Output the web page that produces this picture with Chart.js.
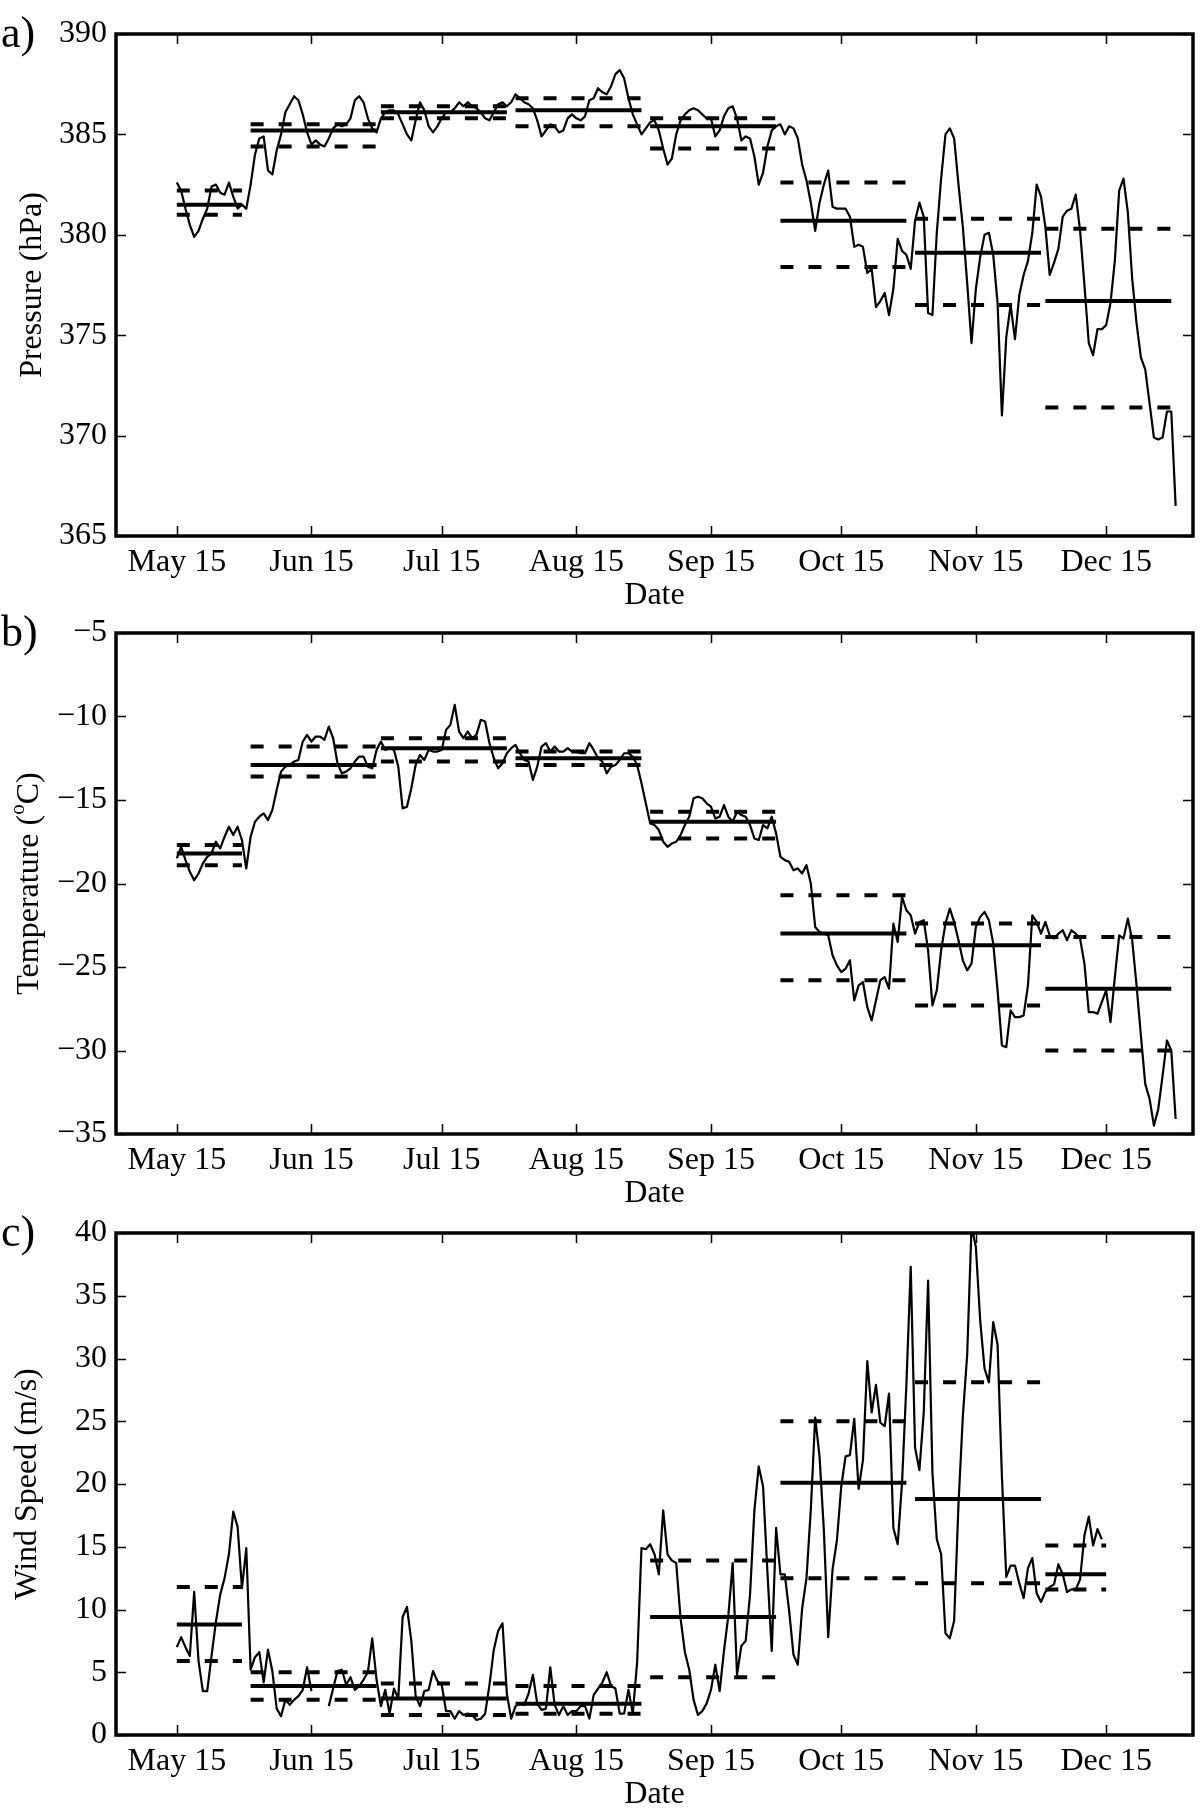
<!DOCTYPE html>
<html>
<head>
<meta charset="utf-8">
<script src="https://cdn.jsdelivr.net/npm/chart.js@4.4.1/dist/chart.umd.min.js"></script>
<style>
  html, body { margin: 0; padding: 0; background: #ffffff; }
  body { width: 1200px; height: 1811px; position: relative; overflow: hidden; }
  .panel { position: absolute; left: 0; width: 1200px; }
  canvas { display: block; }
</style>
</head>
<body>
<div class="panel" style="top:0px;height:622px"><canvas id="chartA" width="1200" height="622"></canvas></div>
<div class="panel" style="top:600px;height:622px"><canvas id="chartB" width="1200" height="622"></canvas></div>
<div class="panel" style="top:1200px;height:611px"><canvas id="chartC" width="1200" height="611"></canvas></div>
<script>
// ---------------- DATA ----------------
// day-of-year of the first daily value (May 15)
const startDay = 135;

// x-axis ticks
const tickDays = [135, 166, 196, 227, 258, 288, 319, 349];
const tickLabels = ['May 15', 'Jun 15', 'Jul 15', 'Aug 15', 'Sep 15', 'Oct 15', 'Nov 15', 'Dec 15'];

// monthly windows (day-of-year)
const monthStart = [135, 152, 182, 213, 244, 274, 305, 335];
const monthEnd = [150, 181, 211, 242, 273, 303, 334, 364];
const windMonthEnd = [150, 181, 211, 242, 273, 303, 334, 349];

// daily pressure (hPa)
const pressure = [
  382.6, 382.2, 381.3, 380.5, 379.9, 380.2, 380.8, 381.3, 382.4, 382.5,
  382.1, 382.0, 382.6, 381.9, 381.3, 381.5, 381.3, 382.5, 384.0, 384.8,
  384.9, 383.2, 383.0, 384.2, 385.0, 386.1, 386.5, 386.9, 386.7, 386.0,
  385.1, 384.5, 384.7, 384.5, 384.4, 384.8, 385.3, 385.5, 385.4, 385.5,
  385.8, 386.7, 386.9, 386.6, 385.8, 385.3, 385.1, 385.8, 386.1, 386.2,
  386.2, 386.0, 385.5, 385.0, 384.7, 385.7, 386.6, 386.2, 385.4, 385.1,
  385.4, 385.8, 386.1, 386.1, 386.3, 386.6, 386.4, 386.6, 386.4, 386.3,
  386.1, 385.8, 385.7, 386.1, 386.5, 386.6, 386.4, 386.6, 387.0, 386.8,
  386.6, 386.5, 386.3, 385.7, 384.9, 385.2, 385.5, 385.4, 385.1, 385.2,
  385.8, 386.0, 385.8, 385.7, 385.9, 386.7, 386.8, 387.3, 387.1, 387.0,
  387.4, 388.0, 388.2, 387.8, 386.8, 386.0, 385.5, 385.0, 385.3, 385.6,
  385.7, 385.2, 384.3, 383.5, 383.8, 385.0, 385.7, 386.0, 386.2, 386.3,
  386.2, 386.0, 385.8, 385.8, 384.9, 385.2, 385.9, 386.3, 386.4, 385.8,
  384.7, 384.9, 384.8, 383.9, 382.5, 383.1, 384.4, 385.2, 385.4, 385.5,
  385.0, 385.4, 385.3, 384.8, 383.5, 382.7, 381.6, 380.2, 381.6, 382.5,
  383.2, 381.4, 381.3, 381.3, 381.3, 380.9, 379.4, 379.5, 379.4, 378.1,
  378.3, 376.4, 376.7, 377.1, 376.0, 377.3, 379.8, 379.2, 379.0, 378.3,
  380.7, 381.6, 380.9, 376.1, 376.0, 380.1, 382.8, 385.0, 385.3, 384.8,
  382.5, 380.4, 377.6, 374.6, 377.3, 378.9, 380.0, 380.1, 379.0, 376.6,
  371.0, 374.9, 376.5, 374.8, 377.0, 378.0, 378.7, 380.1, 382.5, 381.9,
  380.4, 378.0, 378.6, 379.3, 380.9, 381.2, 381.3, 382.0, 380.2, 377.5,
  374.6, 374.0, 375.3, 375.3, 375.5, 376.6, 378.7, 382.2, 382.8, 381.1,
  377.8, 375.6, 373.9, 373.3, 371.6, 369.9, 369.8, 369.9, 371.2, 371.2,
  366.5
];
const pressureMean  = [381.5, 385.2, 386.1, 386.2, 385.4, 380.7, 379.1, 376.7];
const pressureUpper = [382.2, 385.5, 386.4, 386.8, 385.8, 382.6, 380.8, 380.3];
const pressureLower = [381.0, 384.4, 385.8, 385.4, 384.3, 378.4, 376.5, 371.4];

// daily temperature (degC)
const temperature = [
  -18.5, -17.8, -18.6, -19.3, -19.8, -19.4, -18.8, -18.4, -18.2, -17.5,
  -17.9, -17.2, -16.6, -17.1, -16.6, -17.4, -19.1, -17.2, -16.3, -16.0,
  -15.8, -16.2, -15.6, -14.4, -13.3, -13.0, -12.9, -12.7, -12.6, -11.5,
  -11.1, -11.5, -11.2, -11.2, -11.4, -10.6, -11.3, -12.8, -13.4, -13.3,
  -13.1, -12.7, -12.4, -12.4, -13.0, -13.1, -12.0, -11.5, -12.0, -11.9,
  -12.0, -13.0, -15.5, -15.4, -14.3, -12.9, -12.3, -12.6, -12.0, -12.1,
  -12.1, -12.0, -10.8, -10.5, -9.3, -10.9, -11.3, -10.9, -11.3, -11.1,
  -10.2, -10.3, -11.6, -12.5, -13.1, -12.8, -12.2, -11.9, -11.7, -12.2,
  -12.6, -12.7, -13.8, -13.0, -11.8, -11.6, -12.1, -11.8, -12.1, -12.1,
  -11.9, -12.1, -12.1, -12.2, -12.2, -11.6, -12.0, -12.5, -12.7, -13.4,
  -13.0, -12.9, -12.6, -12.2, -12.2, -12.4, -12.9, -14.0, -15.2, -16.4,
  -16.5, -16.8, -17.5, -17.8, -17.6, -17.5, -17.1, -16.5, -16.0, -14.9,
  -14.8, -14.9, -15.2, -15.4, -16.1, -16.0, -15.3, -16.0, -16.3, -15.7,
  -15.9, -16.0, -16.5, -17.3, -17.4, -16.5, -16.7, -16.0, -17.0, -18.4,
  -18.6, -18.7, -19.2, -19.1, -19.4, -18.9, -20.0, -22.6, -22.9, -23.0,
  -23.1, -24.3, -24.9, -25.3, -25.1, -24.6, -27.0, -26.1, -25.9, -27.4,
  -28.2, -27.0, -25.8, -25.6, -26.3, -22.4, -23.5, -20.8, -21.6, -21.9,
  -23.0, -22.3, -22.2, -24.0, -27.3, -26.4, -24.0, -22.4, -21.5, -22.3,
  -23.4, -24.6, -25.2, -24.8, -22.6, -22.0, -21.7, -22.2, -23.6, -26.4,
  -29.7, -29.8, -27.6, -28.0, -28.0, -27.9, -26.1, -21.9, -22.3, -23.0,
  -22.3, -23.1, -23.3, -23.0, -22.8, -23.4, -22.8, -23.0, -23.3, -24.8,
  -27.7, -27.7, -27.8, -27.1, -26.4, -28.3, -25.6, -23.1, -23.3, -22.1,
  -23.4, -26.1, -29.1, -32.0, -32.9, -34.5, -33.5, -31.5, -29.4, -30.0,
  -34.1
];
const temperatureMean  = [-18.2, -12.9, -11.9, -12.5, -16.3, -23.0, -23.7, -26.3];
const temperatureUpper = [-17.7, -11.8, -11.3, -12.1, -15.7, -20.7, -22.4, -23.2];
const temperatureLower = [-18.9, -13.6, -12.7, -12.9, -17.3, -25.8, -27.3, -30.0];

// daily wind speed (m/s); null = missing day
const windSpeed = [
  7.0, 7.8, 7.0, 6.3, 11.4, 5.9, 3.5, 3.5, 6.3, 9.0,
  11.2, 12.5, 14.4, 17.8, 16.6, 11.7, 14.9, 5.2, 6.2, 6.6,
  4.2, 6.8, 5.1, 2.1, 1.5, 2.8, 2.4, 2.8, 3.1, 3.6,
  5.4, 3.5, null, null, null, 2.3, 3.7, 5.1, 5.2, 4.0,
  4.6, 3.6, 3.9, 4.4, 5.0, 7.7, 4.4, 2.3, 3.6, 1.7,
  3.7, 2.9, 9.4, 10.2, 7.5, 3.1, 2.3, 3.5, 3.6, 5.1,
  4.3, 4.0, 1.9, 1.9, 1.3, 1.9, 1.6, 1.7, 1.6, 1.2,
  1.3, 1.7, 4.0, 6.8, 8.3, 8.9, 3.3, 1.3, 2.3, 2.5,
  2.4, 3.3, 4.8, 2.5, 2.0, 2.1, 5.4, 2.4, 1.6, 2.3,
  1.6, 1.9, 1.9, 2.3, 2.3, 1.3, 3.2, 3.7, 4.2, 5.0,
  3.9, 3.7, 1.7, 1.7, 3.6, 1.7, 5.8, 14.9, 14.8, 15.2,
  14.4, 12.8, 17.9, 14.4, 13.9, 13.7, 9.3, 6.6, 5.2, 2.8,
  1.6, 1.9, 2.5, 3.6, 5.6, 3.5, 6.7, 9.5, 13.7, 4.8,
  7.1, 7.5, 11.2, 17.9, 21.4, 19.8, 13.0, 6.7, 16.5, 12.8,
  12.8, 9.9, 6.4, 5.6, 10.1, 12.5, 18.0, 25.3, 22.2, 16.3,
  7.8, 13.2, 15.5, 19.8, 22.2, 22.3, 25.2, 19.6, 21.9, 29.8,
  25.7, 27.9, 24.9, 24.6, 27.2, 16.5, 15.2, 20.1, 27.9, 37.3,
  22.9, 21.1, 25.7, 36.2, 20.9, 15.6, 14.4, 8.1, 7.7, 9.1,
  18.4, 25.4, 30.3, 40.5, 38.9, 33.0, 29.2, 28.1, 32.9, 31.1,
  20.6, 12.6, 13.5, 13.5, 12.1, 10.9, 13.3, 14.1, 11.3, 10.6,
  11.4, 11.8, 12.0, 13.6, 12.8, 11.4, 11.6, 11.6, 12.4, 15.9,
  17.4, 15.1, 16.4, 15.6
];
const windMean  = [8.8, 3.9, 2.9, 2.5, 9.4, 20.1, 18.8, 12.8];
const windUpper = [11.8, 5.0, 4.1, 3.9, 13.9, 25.0, 28.1, 15.1];
const windLower = [5.9, 2.8, 1.6, 1.7, 4.6, 12.5, 12.1, 11.6];

// ---------------- RENDERING ----------------
const FONT = '"Liberation Serif", "Times New Roman", Times, serif';
const TICK_SIZE = 32;
const X_MIN = 121, X_MAX = 369;

function fmtTick(v) {
  return v < 0 ? '\u2212' + Math.abs(v) : String(v);
}

function makePanel(opts) {
  const daily = opts.values.map((v, i) => ({ x: startDay + i, y: v }));
  const datasets = [{
    data: daily,
    borderColor: '#000',
    borderWidth: 2.2,
    pointRadius: 0,
    tension: 0,
    spanGaps: false,
    borderJoinStyle: 'round'
  }];
  for (let m = 0; m < monthStart.length; m++) {
    const s = monthStart[m], e = opts.ends[m];
    datasets.push({
      data: [{ x: s, y: opts.mean[m] }, { x: e, y: opts.mean[m] }],
      borderColor: '#000', borderWidth: 4, pointRadius: 0, borderCapStyle: 'butt'
    });
    [opts.upper[m], opts.lower[m]].forEach(v => datasets.push({
      data: [{ x: s, y: v }, { x: e, y: v }],
      borderColor: '#000', borderWidth: 4, pointRadius: 0,
      borderDash: [13, 15], borderCapStyle: 'butt'
    }));
  }

  const deco = {
    id: 'deco',
    afterDraw(chart) {
      const { ctx, chartArea: a } = chart;
      const xs = chart.scales.x, ys = chart.scales.y;
      ctx.save();
      // inward ticks
      ctx.strokeStyle = '#000';
      ctx.lineWidth = 1.5;
      ctx.beginPath();
      xs.ticks.forEach(t => {
        const px = Math.round(xs.getPixelForValue(t.value)) + 0.5;
        ctx.moveTo(px, a.bottom); ctx.lineTo(px, a.bottom - 10);
        ctx.moveTo(px, a.top); ctx.lineTo(px, a.top + 10);
      });
      ys.ticks.forEach(t => {
        const py = Math.round(ys.getPixelForValue(t.value)) + 0.5;
        ctx.moveTo(a.left, py); ctx.lineTo(a.left + 10, py);
        ctx.moveTo(a.right, py); ctx.lineTo(a.right - 10, py);
      });
      ctx.stroke();
      // frame
      ctx.lineWidth = 3.5;
      ctx.strokeRect(a.left, a.top, a.right - a.left, a.bottom - a.top);

      ctx.fillStyle = '#000';
      // x title
      ctx.font = TICK_SIZE + 'px ' + FONT;
      ctx.textAlign = 'center';
      ctx.textBaseline = 'middle';
      ctx.fillText('Date', (a.left + a.right) / 2, a.bottom + 60);
      // panel label
      ctx.font = '44px ' + FONT;
      ctx.textAlign = 'left';
      ctx.fillText(opts.panel, 1, a.top + 1);
      // y title (rotated, with optional superscript part)
      ctx.translate(opts.yTitleX, (a.top + a.bottom) / 2);
      ctx.rotate(-Math.PI / 2);
      ctx.textAlign = 'left';
      ctx.textBaseline = 'middle';
      let total = 0;
      opts.yTitle.forEach(p => {
        ctx.font = p.size + 'px ' + FONT;
        p.w = ctx.measureText(p.t).width;
        total += p.w;
      });
      let cx = -total / 2;
      opts.yTitle.forEach(p => {
        ctx.font = p.size + 'px ' + FONT;
        ctx.fillText(p.t, cx, -(p.rise || 0));
        cx += p.w;
      });
      ctx.restore();
    }
  };

  return new Chart(document.getElementById(opts.id), {
    type: 'line',
    data: { datasets },
    options: {
      responsive: false,
      animation: false,
      devicePixelRatio: 1,
      events: [],
      layout: { padding: { left: 0, right: 1200 - 1193, top: opts.top, bottom: 0 } },
      plugins: { legend: { display: false }, tooltip: { enabled: false }, title: { display: false } },
      scales: {
        x: {
          type: 'linear',
          min: X_MIN, max: X_MAX,
          afterBuildTicks: s => { s.ticks = tickDays.map(v => ({ value: v })); },
          afterFit: s => { s.height = opts.canvasH - opts.bottom; },
          ticks: {
            autoSkip: false, maxRotation: 0, padding: 7, color: '#000',
            font: { family: FONT, size: TICK_SIZE },
            callback: (v, i) => tickLabels[i]
          },
          grid: { display: false, drawTicks: false },
          border: { display: false }
        },
        y: {
          type: 'linear',
          min: opts.yMin, max: opts.yMax,
          afterFit: s => { s.width = 116; },
          ticks: {
            stepSize: 5, padding: 9, color: '#000',
            font: { family: FONT, size: TICK_SIZE },
            callback: v => fmtTick(v)
          },
          grid: { display: false, drawTicks: false },
          border: { display: false }
        }
      }
    },
    plugins: [deco]
  });
}

makePanel({
  id: 'chartA', panel: 'a)', canvasH: 622, top: 34, bottom: 536,
  values: pressure, mean: pressureMean, upper: pressureUpper, lower: pressureLower, ends: monthEnd,
  yMin: 365, yMax: 390, yTitleX: 33,
  yTitle: [{ t: 'Pressure (hPa)', size: TICK_SIZE }]
});
makePanel({
  id: 'chartB', panel: 'b)', canvasH: 622, top: 33, bottom: 534,
  values: temperature, mean: temperatureMean, upper: temperatureUpper, lower: temperatureLower, ends: monthEnd,
  yMin: -35, yMax: -5, yTitleX: 30,
  yTitle: [{ t: 'Temperature (', size: TICK_SIZE }, { t: 'o', size: 21, rise: 12 }, { t: 'C)', size: TICK_SIZE }]
});
makePanel({
  id: 'chartC', panel: 'c)', canvasH: 611, top: 33, bottom: 535,
  values: windSpeed, mean: windMean, upper: windUpper, lower: windLower, ends: windMonthEnd,
  yMin: 0, yMax: 40, yTitleX: 28,
  yTitle: [{ t: 'Wind Speed (m/s)', size: TICK_SIZE }]
});
</script>
</body>
</html>
